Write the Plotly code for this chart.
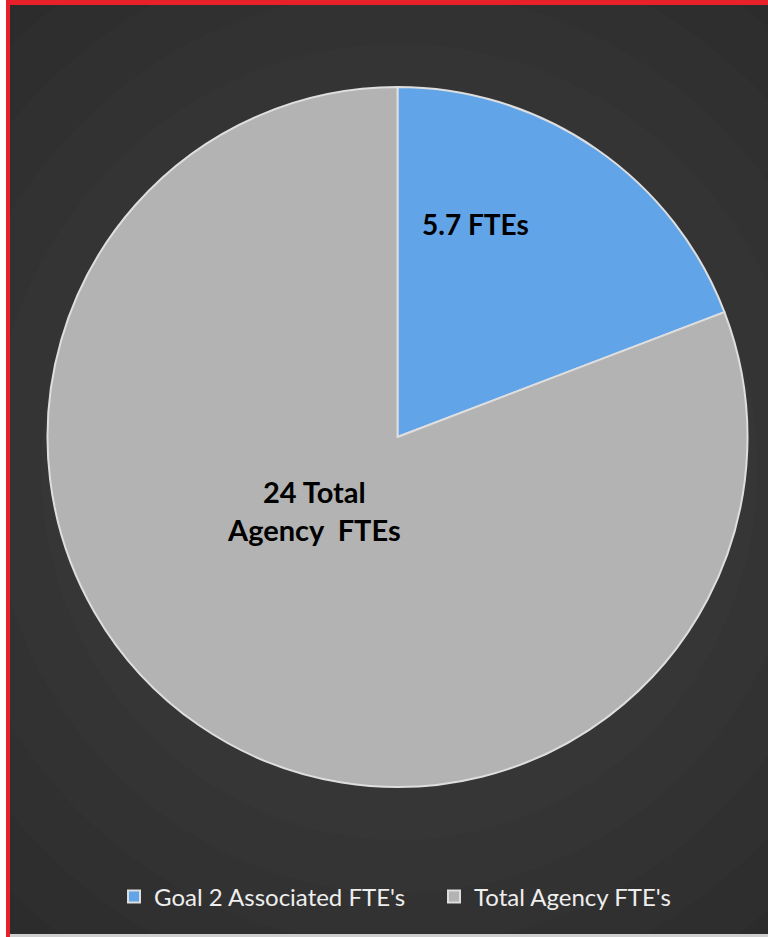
import plotly.graph_objects as go

labels = ["Goal 2 Associated FTE's", "Total Agency FTE's"]
values = [5.7, 24]
slice_text = ["5.7 FTEs", "24 Total<br>Agency  FTEs"]
colors = ["#62a4e8", "#b3b3b3"]

W, H = 768, 937

fig = go.Figure()
fig.add_trace(go.Pie(
    labels=labels,
    values=values,
    sort=False,
    direction="clockwise",
    rotation=0,
    textinfo="none",
    hoverinfo="label+value",
    marker=dict(colors=colors, line=dict(color="#dedede", width=2)),
    domain=dict(x=[47 / W, 748 / W], y=[1 - 787 / H, 1 - 87 / H]),
))

shapes = []
shapes.append(dict(type="rect", xref="paper", yref="paper", x0=0, x1=1, y0=0, y1=1,
                   fillcolor="#2a2a2a", line=dict(width=0), layer="below"))
n = 12
for i in range(n):
    r = 0.8 * (1 - i / n)
    shapes.append(dict(type="circle", xref="paper", yref="paper",
                       x0=0.52 - r, x1=0.52 + r, y0=0.5 - r * 0.85, y1=0.5 + r * 0.85,
                       fillcolor="#ffffff", opacity=0.01, line=dict(width=0), layer="below"))
shapes.append(dict(type="rect", xref="paper", yref="paper", x0=0, x1=6 / W, y0=0, y1=1,
                   fillcolor="#ffffff", line=dict(width=0), layer="below"))
shapes.append(dict(type="rect", xref="paper", yref="paper", x0=6 / W, x1=10 / W, y0=0, y1=1,
                   fillcolor="#e8202a", line=dict(width=0), layer="above"))
shapes.append(dict(type="rect", xref="paper", yref="paper", x0=6 / W, x1=1, y0=1 - 5 / H, y1=1,
                   fillcolor="#e8202a", line=dict(width=0), layer="above"))
shapes.append(dict(type="rect", xref="paper", yref="paper", x0=10 / W, x1=1, y0=0, y1=3 / H,
                   fillcolor="#cfcfcf", line=dict(width=0), layer="above"))

annotations = [
    dict(text="<b>" + slice_text[0] + "</b>", x=475 / W, y=1 - 224 / H, xref="paper", yref="paper",
         xanchor="center", yanchor="middle",
         showarrow=False, font=dict(family="Lato", size=28, color="#000000"), align="center"),
    dict(text="<b>" + slice_text[1] + "</b>", x=314 / W, y=1 - 510 / H, xref="paper", yref="paper",
         xanchor="center", yanchor="middle",
         showarrow=False, font=dict(family="Lato", size=29, color="#000000"), align="center"),
]

fig.update_layout(
    width=W, height=H,
    margin=dict(l=0, r=0, t=0, b=0),
    paper_bgcolor="#2a2a2a",
    plot_bgcolor="#2a2a2a",
    shapes=shapes,
    annotations=annotations,
    showlegend=True,
    legend=dict(orientation="h", x=114 / W, xanchor="left", y=1 - 897 / H, yanchor="middle",
                font=dict(family="Lato", size=24, color="#eeeeee"),
                bgcolor="rgba(0,0,0,0)", itemwidth=30,
                entrywidth=275, entrywidthmode="pixels"),
)

fig.write_html("out.html", config={"displayModeBar": False},
               post_script="document.body.style.margin='0';")
